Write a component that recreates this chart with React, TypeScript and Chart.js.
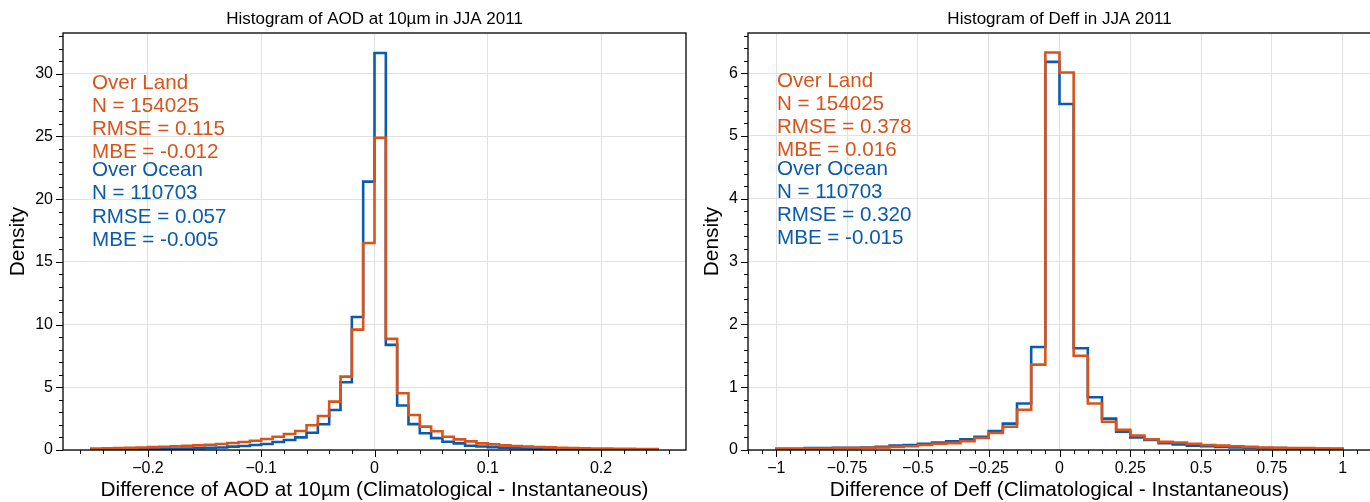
import React, { useEffect, useRef } from 'react';
import { Chart, registerables } from 'chart.js';
Chart.register(...registerables);

// ---------------- DATA ----------------
const aodBinStart = -0.25;
const aodBinWidth = 0.01;
// density per 0.01 bin from -0.25 to 0.25
const aodOcean = [
  0.025, 0.03, 0.035, 0.04, 0.05, 0.06, 0.08, 0.09, 0.11, 0.14,
  0.17, 0.2, 0.27, 0.32, 0.4, 0.48, 0.64, 0.8, 1.01, 1.38,
  2.05, 3.19, 5.4, 10.6, 21.4, 31.66, 8.38, 3.55, 2.06, 1.33,
  0.95, 0.66, 0.53, 0.34, 0.28, 0.22, 0.18, 0.15, 0.12, 0.1,
  0.08, 0.07, 0.06, 0.05, 0.045, 0.04, 0.035, 0.03, 0.025, 0.02,
];
const aodLand = [
  0.12, 0.14, 0.16, 0.18, 0.2, 0.23, 0.26, 0.29, 0.33, 0.37,
  0.42, 0.48, 0.56, 0.64, 0.74, 0.88, 1.06, 1.28, 1.52, 1.97,
  2.71, 3.86, 5.85, 9.6, 16.5, 24.9, 8.86, 4.52, 2.79, 1.86,
  1.5, 1.06, 0.85, 0.69, 0.53, 0.45, 0.37, 0.32, 0.28, 0.24,
  0.21, 0.18, 0.16, 0.14, 0.12, 0.11, 0.1, 0.09, 0.08, 0.07,
];
const deffBinStart = -1;
const deffBinWidth = 0.05;
// density per 0.05 bin from -1 to 1
const deffOcean = [
  0.02, 0.02, 0.03, 0.03, 0.035, 0.035, 0.04, 0.05, 0.07, 0.08,
  0.1, 0.12, 0.14, 0.17, 0.21, 0.3, 0.42, 0.74, 1.64, 6.18,
  5.51, 1.62, 0.84, 0.5, 0.29, 0.2, 0.16, 0.11, 0.09, 0.07,
  0.06, 0.05, 0.04, 0.035, 0.03, 0.03, 0.025, 0.02, 0.02, 0.02,
];
const deffLand = [
  0.02, 0.02, 0.025, 0.025, 0.03, 0.03, 0.035, 0.04, 0.05, 0.06,
  0.08, 0.1, 0.11, 0.14, 0.19, 0.27, 0.37, 0.64, 1.36, 6.33,
  6.01, 1.5, 0.74, 0.45, 0.32, 0.23, 0.17, 0.13, 0.12, 0.1,
  0.08, 0.07, 0.06, 0.05, 0.04, 0.035, 0.03, 0.03, 0.025, 0.02,
];

const aodXTicks = [-0.2, -0.1, 0, 0.1, 0.2];
const aodYTicks = [0, 5, 10, 15, 20, 25, 30];
const deffXTicks = [-1, -0.75, -0.5, -0.25, 0, 0.25, 0.5, 0.75, 1];
const deffYTicks = [0, 1, 2, 3, 4, 5, 6];

const aodLandText = ['Over Land', 'N = 154025', 'RMSE = 0.115', 'MBE = -0.012'];
const aodOceanText = ['Over Ocean', 'N = 110703', 'RMSE = 0.057', 'MBE = -0.005'];
const deffLandText = ['Over Land', 'N = 154025', 'RMSE = 0.378', 'MBE = 0.016'];
const deffOceanText = ['Over Ocean', 'N = 110703', 'RMSE = 0.320', 'MBE = -0.015'];

const aodTitle = 'Histogram of AOD at 10\u00b5m in JJA 2011';
const deffTitle = 'Histogram of Deff in JJA 2011';
const aodXLabel = 'Difference of AOD at 10\u00b5m (Climatological - Instantaneous)';
const deffXLabel = 'Difference of Deff (Climatological - Instantaneous)';
const yLabel = 'Density';

// ---------------- STYLE ----------------
const FONT = "'Liberation Sans', Arial, Helvetica, sans-serif";
const LAND = '#D9541A';
const OCEAN = '#0B5BAD';
const GRID = '#e2e2e2';

function stepPoints(start: number, width: number, vals: number[]) {
  const pts = [{ x: start, y: 0 }];
  vals.forEach((v, i) => pts.push({ x: start + i * width, y: v }));
  pts.push({ x: start + vals.length * width, y: 0 });
  return pts;
}

function fmt(v: number) {
  const s = String(Math.round(v * 1000) / 1000);
  return s.replace('-', '\u2212');
}

function range(a: number, b: number, step: number) {
  const out: number[] = [];
  const n = Math.round((b - a) / step);
  for (let i = 0; i <= n; i++) out.push(a + i * step);
  return out;
}

type PanelProps = {
  left: number;
  canvasWidth: number;
  yAxisWidth: number;
  padRight: number;
  binStart: number;
  binWidth: number;
  land: number[];
  ocean: number[];
  xMin: number;
  xMax: number;
  yMax: number;
  xTicks: number[];
  yTicks: number[];
  xMinorStep: number;
  yMinorStep: number;
  title: string;
  xLabel: string;
  landText: string[];
  oceanText: string[];
  textX: number;
  landY: number;
  oceanY: number;
  yLabelX: number;
};

function Panel(p: PanelProps) {
  const ref = useRef<HTMLCanvasElement | null>(null);
  useEffect(() => {
    const canvas = ref.current!;
    const xMinor = range(Math.ceil(p.xMin / p.xMinorStep) * p.xMinorStep, p.xMax, p.xMinorStep);
    const yMinor = range(0, p.yMax, p.yMinorStep);
    const decor = {
      id: 'decor',
      afterDraw(chart: any) {
        const { ctx, chartArea: ca } = chart;
        const xs = chart.scales.x;
        const ys = chart.scales.y;
        ctx.save();
        ctx.strokeStyle = '#000';
        ctx.lineWidth = 1;
        ctx.beginPath();
        const isMajor = (v: number, arr: number[]) => arr.some((t) => Math.abs(t - v) < 1e-6);
        xMinor.forEach((v) => {
          const px = Math.round(xs.getPixelForValue(v)) + 0.5;
          if (px < ca.left - 0.5 || px > ca.right + 0.5) return;
          const len = isMajor(v, p.xTicks) ? 7 : 4;
          ctx.moveTo(px, ca.bottom);
          ctx.lineTo(px, ca.bottom + len);
        });
        yMinor.forEach((v) => {
          const py = Math.round(ys.getPixelForValue(v)) + 0.5;
          if (py < ca.top - 0.5 || py > ca.bottom + 0.5) return;
          const len = isMajor(v, p.yTicks) ? 7 : 4;
          ctx.moveTo(ca.left, py);
          ctx.lineTo(ca.left - len, py);
        });
        ctx.stroke();
        ctx.lineWidth = 1.3;
        ctx.strokeRect(ca.left, ca.top, ca.right - ca.left, ca.bottom - ca.top);

        const cx = (ca.left + ca.right) / 2;
        ctx.fillStyle = '#000';
        ctx.textAlign = 'center';
        ctx.textBaseline = 'middle';
        ctx.font = `17px ${FONT}`;
        ctx.fillText(p.title, cx, 19);
        ctx.font = `20.8px ${FONT}`;
        ctx.fillText(p.xLabel, cx, 490);
        ctx.save();
        ctx.translate(p.yLabelX, (ca.top + ca.bottom) / 2);
        ctx.rotate(-Math.PI / 2);
        ctx.fillText(yLabel, 0, 0);
        ctx.restore();

        ctx.textAlign = 'left';
        ctx.font = `20.6px ${FONT}`;
        ctx.fillStyle = LAND;
        p.landText.forEach((t, i) => ctx.fillText(t, p.textX, p.landY + i * 23.2));
        ctx.fillStyle = OCEAN;
        p.oceanText.forEach((t, i) => ctx.fillText(t, p.textX, p.oceanY + i * 23.2));
        ctx.restore();
      },
    };

    const chart = new Chart(canvas, {
      type: 'line',
      data: {
        datasets: [
          {
            label: 'Over Land',
            data: stepPoints(p.binStart, p.binWidth, p.land),
            borderColor: LAND,
            borderWidth: 2.6,
            stepped: 'before',
            pointRadius: 0,
            fill: false,
            borderJoinStyle: 'miter',
          },
          {
            label: 'Over Ocean',
            data: stepPoints(p.binStart, p.binWidth, p.ocean),
            borderColor: OCEAN,
            borderWidth: 2.6,
            stepped: 'before',
            pointRadius: 0,
            fill: false,
            borderJoinStyle: 'miter',
          },
        ],
      },
      options: {
        responsive: false,
        animation: false,
        devicePixelRatio: 1,
        layout: { padding: { left: 0, right: p.padRight, top: 33, bottom: 0 } },
        plugins: { legend: { display: false }, tooltip: { enabled: false }, title: { display: false } },
        scales: {
          x: {
            type: 'linear',
            min: p.xMin,
            max: p.xMax,
            afterBuildTicks: (s: any) => {
              s.ticks = p.xTicks.map((v) => ({ value: v }));
            },
            afterFit: (s: any) => {
              s.height = 52;
            },
            ticks: {
              callback: (v: any) => fmt(Number(v)),
              font: { family: FONT, size: 16 },
              color: '#000',
              padding: 9,
              maxRotation: 0,
              autoSkip: false,
            },
            grid: { color: GRID, lineWidth: 1, drawTicks: false },
            border: { display: false },
          },
          y: {
            type: 'linear',
            min: 0,
            max: p.yMax,
            afterBuildTicks: (s: any) => {
              s.ticks = p.yTicks.map((v) => ({ value: v }));
            },
            afterFit: (s: any) => {
              s.width = p.yAxisWidth;
            },
            ticks: {
              callback: (v: any) => fmt(Number(v)),
              font: { family: FONT, size: 16 },
              color: '#000',
              padding: 10,
              autoSkip: false,
            },
            grid: { color: GRID, lineWidth: 1, drawTicks: false },
            border: { display: false },
          },
        },
      } as any,
      plugins: [decor],
    });
    return () => chart.destroy();
  }, []);
  return (
    <canvas
      ref={ref}
      width={p.canvasWidth}
      height={502}
      style={{ position: 'absolute', left: p.left, top: 0, width: p.canvasWidth, height: 502 }}
    />
  );
}

export default function App() {
  return (
    <div
      style={{
        position: 'fixed',
        left: 0,
        top: 0,
        width: 1370,
        height: 502,
        overflow: 'hidden',
        background: '#fff',
      }}
    >
      <Panel
        left={0}
        canvasWidth={690}
        yAxisWidth={63}
        padRight={4}
        binStart={aodBinStart}
        binWidth={aodBinWidth}
        land={aodLand}
        ocean={aodOcean}
        xMin={-0.275}
        xMax={0.275}
        yMax={33.25}
        xTicks={aodXTicks}
        yTicks={aodYTicks}
        xMinorStep={0.02}
        yMinorStep={1}
        title={aodTitle}
        xLabel={aodXLabel}
        landText={aodLandText}
        oceanText={aodOceanText}
        textX={92}
        landY={83}
        oceanY={170.5}
        yLabelX={18}
      />
      <Panel
        left={690}
        canvasWidth={720}
        yAxisWidth={58}
        padRight={39}
        binStart={deffBinStart}
        binWidth={deffBinWidth}
        land={deffLand}
        ocean={deffOcean}
        xMin={-1.1}
        xMax={1.1}
        yMax={6.64}
        xTicks={deffXTicks}
        yTicks={deffYTicks}
        xMinorStep={0.05}
        yMinorStep={0.2}
        title={deffTitle}
        xLabel={deffXLabel}
        landText={deffLandText}
        oceanText={deffOceanText}
        textX={87}
        landY={81}
        oceanY={169.2}
        yLabelX={22}
      />
    </div>
  );
}
